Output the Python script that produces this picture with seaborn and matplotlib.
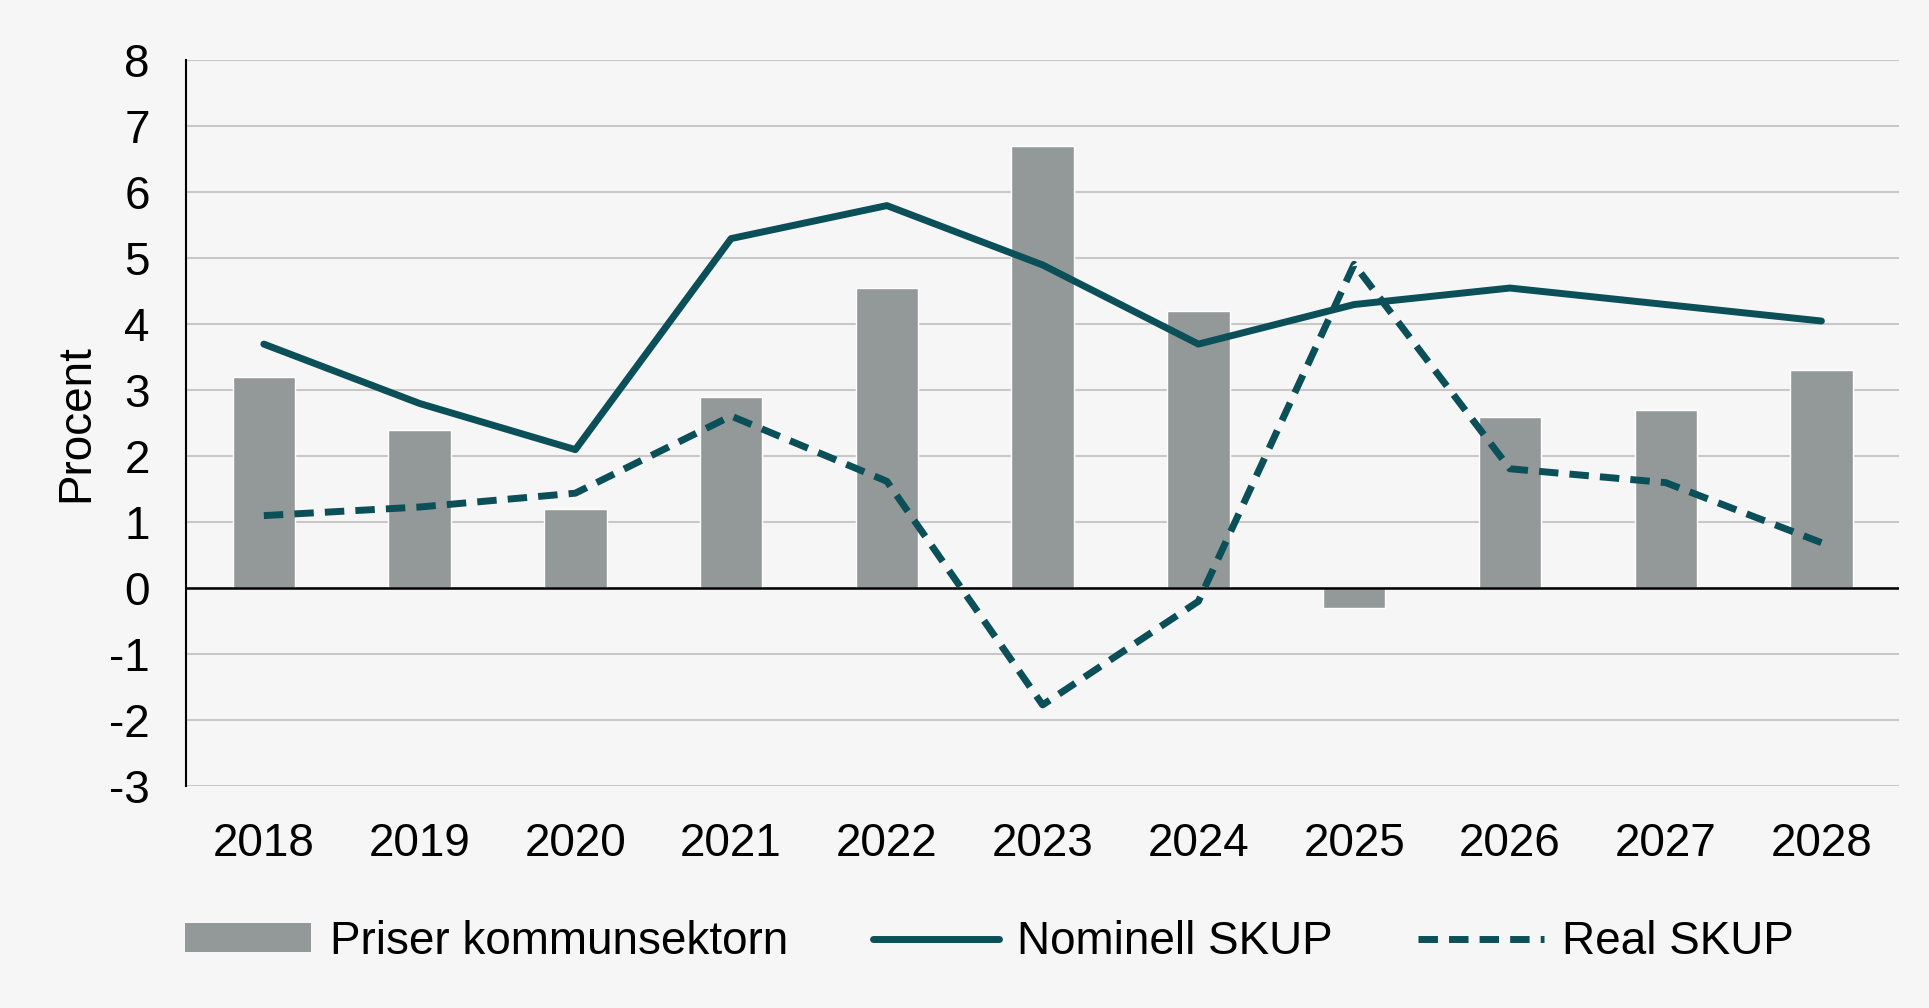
import matplotlib
matplotlib.use("Agg")
import matplotlib.pyplot as plt
import seaborn as sns
import pandas as pd
from matplotlib.lines import Line2D
from matplotlib.patches import Patch

years = ["2018", "2019", "2020", "2021", "2022", "2023", "2024", "2025", "2026", "2027", "2028"]
priser = [3.2, 2.4, 1.2, 2.9, 4.55, 6.7, 4.2, -0.3, 2.6, 2.7, 3.3]
nominell = [3.7, 2.8, 2.1, 5.3, 5.8, 4.9, 3.7, 4.3, 4.55, 4.3, 4.05]
real = [1.1, 1.23, 1.44, 2.61, 1.62, -1.77, -0.2, 4.91, 1.81, 1.6, 0.69]
yticks = [-3, -2, -1, 0, 1, 2, 3, 4, 5, 6, 7, 8]

labels = ["Priser kommunsektorn", "Nominell SKUP", "Real SKUP"]

bg = "#f6f6f6"
bar_color = "#939898"
line_color = "#0b4f58"
lw = 5.0
dash = (0, (2.8, 1.6))

sns.set_theme(style="white")
plt.rcParams["font.family"] = ["Liberation Sans", "DejaVu Sans"]
plt.rcParams["text.color"] = "black"
plt.rcParams["axes.labelcolor"] = "black"

df = pd.DataFrame({"year": years, "priser": priser, "nominell": nominell, "real": real})

fig = plt.figure(figsize=(19.29, 10.08), dpi=100, facecolor=bg)
ax = fig.add_axes([0.0964, 0.2202, 0.8882, 0.7198])
ax.set_facecolor(bg)

sns.barplot(data=df, x="year", y="priser", color=bar_color, width=0.4,
            saturation=1, ax=ax, zorder=2)
sns.lineplot(data=df, x="year", y="nominell", color=line_color,
             ax=ax, zorder=4, sort=False)
sns.lineplot(data=df, x="year", y="real", color=line_color,
             ax=ax, zorder=4, sort=False)
nom_line, real_line = ax.lines[-2], ax.lines[-1]
nom_line.set_linewidth(lw)
nom_line.set_solid_capstyle("round")
nom_line.set_solid_joinstyle("round")
real_line.set_linewidth(lw)
real_line.set_linestyle(dash)
real_line.set_dash_capstyle("butt")

ax.set_xlim(-0.5, len(years) - 0.5)
ax.set_ylim(-3, 8)
ax.set_yticks(yticks)
ax.set_yticklabels([str(t) for t in yticks])
ax.yaxis.grid(True, color="#c8c8c8", linewidth=1.5, zorder=0)
ax.xaxis.grid(False)
ax.axhline(0, color="black", linewidth=1.8, zorder=3)

for s in ["top", "right", "bottom"]:
    ax.spines[s].set_visible(False)
ax.spines["left"].set_color("black")
ax.spines["left"].set_linewidth(1.5)

ax.tick_params(axis="both", length=0, labelsize=33, colors="black")
ax.tick_params(axis="y", pad=26)
ax.tick_params(axis="x", pad=26)
ax.set_xlabel("")
ax.set_ylabel("Procent", fontsize=33, labelpad=8)

handles = [
    Patch(facecolor=bar_color, edgecolor="none"),
    Line2D([0], [0], color=line_color, linewidth=lw),
    Line2D([0], [0], color=line_color, linewidth=lw, linestyle=dash, dash_capstyle="butt"),
]
fig.legend(handles, labels, loc="center", bbox_to_anchor=(0.513, 0.0655), ncol=3,
           frameon=False, fontsize=33, handlelength=2.75, handleheight=0.6,
           handletextpad=0.4, columnspacing=1.85)

fig.savefig("out.png", dpi=100, facecolor=bg)
